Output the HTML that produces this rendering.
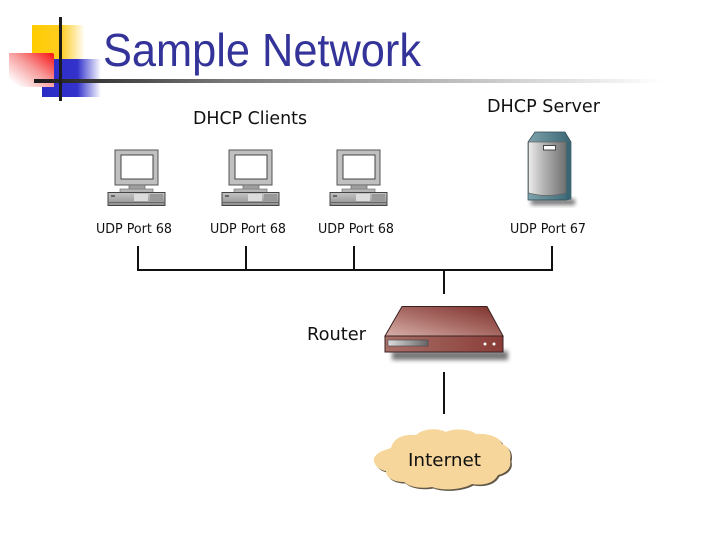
<!DOCTYPE html>
<html><head><meta charset="utf-8"><style>
html,body{margin:0;padding:0;background:#fff;width:720px;height:540px;overflow:hidden}
svg{display:block}
text{font-family:"DejaVu Sans","Liberation Sans",sans-serif;fill:#111}
</style></head><body>
<svg width="720" height="540" viewBox="0 0 720 540" xmlns="http://www.w3.org/2000/svg">
<defs>
<linearGradient id="y"><stop offset="0" stop-color="#ffcc00"/><stop offset=".55" stop-color="#ffcc22"/><stop offset="1" stop-color="#fff"/></linearGradient>
<linearGradient id="b"><stop offset="0" stop-color="#2a2ac4"/><stop offset=".6" stop-color="#3333cc"/><stop offset="1" stop-color="#fff"/></linearGradient>
<linearGradient id="r" x1="1" y1="0" x2="0" y2="1"><stop offset="0" stop-color="#f81010"/><stop offset=".45" stop-color="#f79a9a"/><stop offset=".9" stop-color="#fff"/></linearGradient>
<linearGradient id="k"><stop offset="0" stop-color="#1a1a1a"/><stop offset=".3" stop-color="#777"/><stop offset="1" stop-color="#fff"/></linearGradient>
<linearGradient id="sv"><stop offset="0" stop-color="#ececec"/><stop offset=".4" stop-color="#b4b4b4"/><stop offset="1" stop-color="#707070"/></linearGradient>
<linearGradient id="st"><stop offset="0" stop-color="#7fa3ac"/><stop offset="1" stop-color="#3a6673"/></linearGradient>
<linearGradient id="rt" x1="0" y1="1" x2="1" y2="0"><stop offset="0" stop-color="#d9b0aa"/><stop offset=".5" stop-color="#a86a64"/><stop offset="1" stop-color="#7d2f2b"/></linearGradient>
<linearGradient id="rf"><stop offset="0" stop-color="#a87068"/><stop offset="1" stop-color="#8a3c38"/></linearGradient>
<linearGradient id="sl"><stop offset="0" stop-color="#ddd"/><stop offset="1" stop-color="#666"/></linearGradient>
<linearGradient id="cs" x1="0" y1="0" x2="0" y2="1"><stop offset="0" stop-color="#c4c4c4"/><stop offset="1" stop-color="#909090"/></linearGradient>
<filter id="bl" x="-20%" y="-50%" width="140%" height="200%"><feGaussianBlur stdDeviation="2"/></filter>
<g id="pc">
<rect x="115" y="150" width="43" height="35" fill="#c0c0c0" stroke="#555" stroke-width="1"/>
<rect x="121" y="155" width="32" height="24" fill="#fff" stroke="#444" stroke-width="1"/>
<rect x="129" y="185" width="16" height="5" fill="#a0a0a0" stroke="#666" stroke-width=".7"/>
<rect x="120" y="189" width="33" height="3.5" fill="#b5b5b5" stroke="#777" stroke-width=".7"/>
<rect x="108" y="192.500" width="57" height="13" fill="url(#cs)" stroke="#444" stroke-width="1"/>
<rect x="134" y="194" width="14" height="7" fill="#dcdcdc"/>
<rect x="150" y="194" width="13" height="7" fill="#999"/>
<rect x="109" y="202" width="55" height="1" fill="#666"/>
<rect x="111" y="195" width="4" height="2" fill="#666"/>
</g>
</defs>

<!-- logo -->
<rect x="32" y="25" width="53" height="35" fill="url(#y)"/>
<rect x="42" y="59" width="59" height="38" fill="url(#b)"/>
<path d="M9 53H52Q54 53 54 55V87H9Z" fill="url(#r)"/>
<rect x="34" y="79" width="630" height="4" fill="url(#k)"/>
<rect x="59" y="17" width="3" height="84" fill="#1c1c1c"/>
<text x="103" y="66" font-size="46" textLength="318" lengthAdjust="spacingAndGlyphs" style="fill:#333399;font-family:'Liberation Sans',sans-serif">Sample Network</text>

<text x="193" y="124" font-size="18" textLength="114" lengthAdjust="spacingAndGlyphs">DHCP Clients</text>
<text x="487" y="112" font-size="18" textLength="113" lengthAdjust="spacingAndGlyphs">DHCP Server</text>

<use href="#pc"/>
<use href="#pc" x="114"/>
<use href="#pc" x="222"/>

<!-- server -->
<rect x="531" y="199" width="44" height="6" fill="#777" filter="url(#bl)"/>
<path d="M528 142L535 132H565L571 142V199L566 200H528Z" fill="url(#st)" stroke="#2c4a55" stroke-width=".7"/>
<path d="M566 142H571V199L566 200Z" fill="#3a6673"/>
<path d="M528.500 142H566V193Q547 198 528.500 193Z" fill="url(#sv)" stroke="#666" stroke-width=".7"/>
<rect x="543.500" y="145.500" width="12" height="4.500" fill="#fff" stroke="#444" stroke-width="1"/>

<text x="96" y="233" font-size="13" textLength="76" lengthAdjust="spacingAndGlyphs">UDP Port 68</text>
<text x="210" y="233" font-size="13" textLength="76" lengthAdjust="spacingAndGlyphs">UDP Port 68</text>
<text x="318" y="233" font-size="13" textLength="76" lengthAdjust="spacingAndGlyphs">UDP Port 68</text>
<text x="510" y="233" font-size="13" textLength="76" lengthAdjust="spacingAndGlyphs">UDP Port 67</text>

<!-- connectors -->
<path d="M138 246V270H552V246M246 246V270M354 246V270M444 270V294M444 372V414" fill="none" stroke="#111" stroke-width="2"/>

<!-- router -->
<rect x="392" y="351" width="116" height="9" fill="#777" filter="url(#bl)"/>
<path d="M402 306.500H487L503 336H385Z" fill="url(#rt)" stroke="#3a2220" stroke-width="1"/>
<rect x="385" y="336" width="118" height="16" fill="url(#rf)" stroke="#3a2220" stroke-width="1"/>
<rect x="388" y="340" width="40" height="6" fill="url(#sl)" stroke="#444" stroke-width=".6"/>
<circle cx="485" cy="344" r="1.500" fill="#fff"/>
<circle cx="494" cy="344" r="1.500" fill="#fff"/>
<text x="307" y="340" font-size="18" textLength="59" lengthAdjust="spacingAndGlyphs">Router</text>

<!-- cloud -->
<path d="M374 458C378 451 386 450 391 448C394 437 404 434 416 435C424 428 438 428 446 432C454 428 470 429 476 434C488 433 500 437 502 444C508 446 512 452 510 460C512 468 506 473 498 475C494 483 484 486 472 484C462 490 442 491 432 487C420 489 410 487 404 482C394 482 386 478 386 471C378 470 373 464 374 458Z" fill="#3a2e1a" transform="translate(1.500 1.500)" opacity=".8"/>
<path d="M374 458C378 451 386 450 391 448C394 437 404 434 416 435C424 428 438 428 446 432C454 428 470 429 476 434C488 433 500 437 502 444C508 446 512 452 510 460C512 468 506 473 498 475C494 483 484 486 472 484C462 490 442 491 432 487C420 489 410 487 404 482C394 482 386 478 386 471C378 470 373 464 374 458Z" fill="#f6d69a"/>
<text x="408" y="466" font-size="18" textLength="73" lengthAdjust="spacingAndGlyphs">Internet</text>
</svg>
</body></html>
